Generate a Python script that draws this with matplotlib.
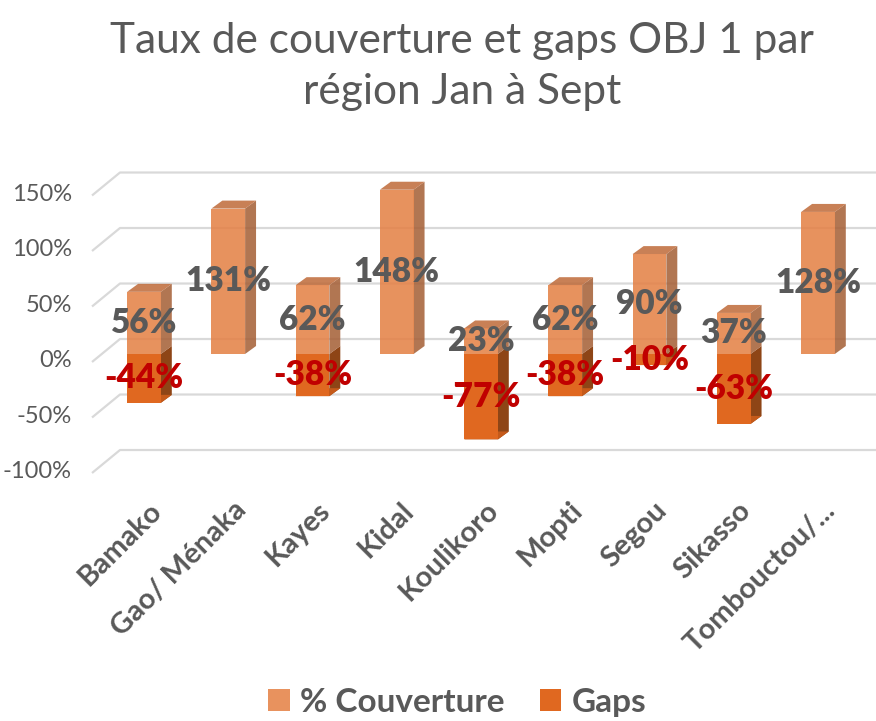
import matplotlib.pyplot as plt
from matplotlib.patches import Polygon, Patch
import numpy as np

regions = ["Bamako", "Gao/ Ménaka", "Kayes", "Kidal", "Koulikoro",
           "Mopti", "Segou", "Sikasso", "Tombouctou/..."]
couverture = [56, 131, 62, 148, 23, 62, 90, 37, 128]
gaps = [-44, None, -38, None, -77, -38, -10, -63, None]
y_ticks = [150, 100, 50, 0, -50, -100]

GREY = "#595959"
# coverage bars are a bit see-through, colours chosen so the blend looks right
COV = {"front": "#E48044", "side": "#A55F36", "top": "#BF6B3A"}
GAP = {"front": "#E06820", "side": "#8E4516", "top": "#C55A1A"}

plt.rcParams['font.family'] = ['Lato', 'DejaVu Sans']

fig = plt.figure(figsize=(8.76, 7.21), dpi=100)
ax = fig.add_axes([0, 0, 1, 1])
# axes covers the whole figure, one category = 84.25 px, 1% = 1.11 px
ax.set_xlim(-144 / 84.25, (876 - 144) / 84.25)
ax.set_ylim((354 - 721) / 1.11, 354 / 1.11)
ax.axis('off')

width = 0.40
ddx, ddy = 0.13, 7.2  # depth of the bars

# back wall / floor gridlines
for v in y_ticks:
    ax.plot([-0.617, -0.285, 8.69], [v - 7.2, v + 13.5, v + 13.5],
            color="#D9D9D9", lw=1.6, zorder=1, solid_capstyle='butt')
    ax.text(-0.855, v - 6, f"{v}%", ha='right', va='center',
            fontsize=17, color=GREY)


def draw_3d(x, vals, cols, z, alpha=1.0):
    bars = ax.bar(x, vals, width, color=cols["front"], zorder=z + 0.2,
                  alpha=alpha, lw=0)
    for b in bars:
        x0 = b.get_x()
        x1 = x0 + b.get_width()
        y0 = b.get_y()
        y1 = y0 + b.get_height()
        side = Polygon([(x1, y0), (x1 + ddx, y0 + ddy), (x1 + ddx, y1 + ddy), (x1, y1)],
                       closed=True, fc=cols["side"], lw=0, zorder=z, alpha=alpha)
        top = Polygon([(x0, y1), (x0 + ddx, y1 + ddy), (x1 + ddx, y1 + ddy), (x1, y1)],
                      closed=True, fc=cols["top"], lw=0, zorder=z + 0.1, alpha=alpha)
        ax.add_patch(side)
        ax.add_patch(top)


gx = [i for i, g in enumerate(gaps) if g is not None]
gv = [g for g in gaps if g is not None]
draw_3d(gx, gv, GAP, 2)
draw_3d(np.arange(len(regions)), couverture, COV, 3, alpha=0.86)

for i, v in enumerate(couverture):
    ax.text(i, v / 2, f"{v}%", ha='center', va='center', fontsize=24,
            fontweight='heavy', color=GREY, zorder=10)
for i, v in zip(gx, gv):
    ax.text(i, v / 2, f"{v}%", ha='center', va='center', fontsize=24,
            fontweight='heavy', color="#C00000", zorder=10)

for i, name in enumerate(regions):
    ax.text(i + 0.05, -128.8, name, rotation=45, rotation_mode='anchor',
            ha='right', va='top', fontsize=21, fontweight='bold', color=GREY)

fig.text(0.527, 0.908, "Taux de couverture et gaps OBJ 1 par\nrégion Jan à Sept",
         ha='center', va='center', fontsize=30.5, color=GREY, linespacing=1.42)

handles = [Patch(fc="#E8925E", label="% Couverture"),
           Patch(fc=GAP["front"], label="Gaps")]
fig.legend(handles=handles, loc='center', bbox_to_anchor=(0.522, 0.026),
           ncol=2, frameon=False, handlelength=0.65, handleheight=0.65,
           handletextpad=0.3, columnspacing=1.05,
           prop={'size': 24, 'weight': 'bold'}, labelcolor=GREY)

fig.savefig("out.png", dpi=100)
